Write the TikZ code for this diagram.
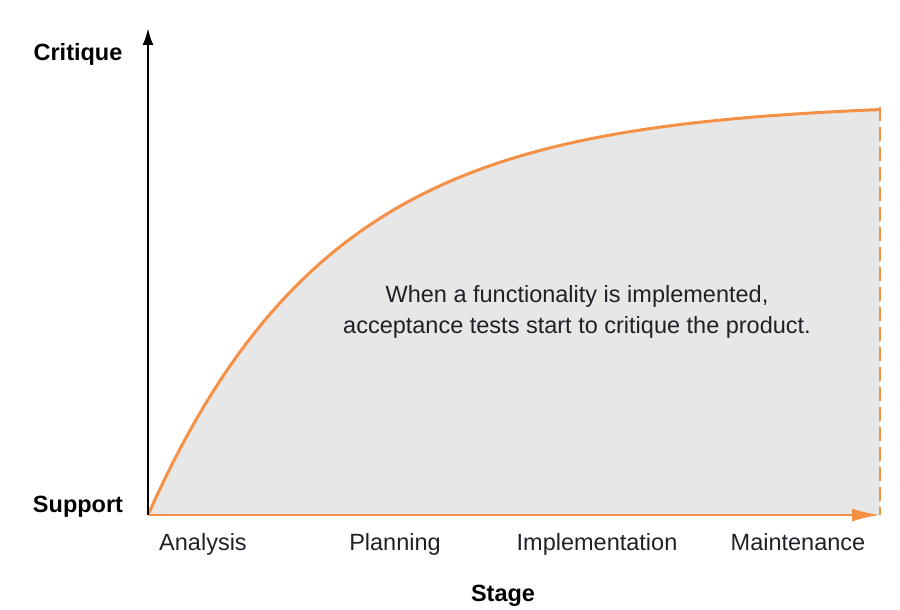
\documentclass[tikz,border=0pt]{standalone}
\usepackage{fontspec}
\setmainfont{Liberation Sans}
\usetikzlibrary{arrows.meta}
\definecolor{curveorange}{RGB}{245,145,70}
\definecolor{areagrey}{RGB}{230,231,230}
\definecolor{txtdark}{RGB}{35,31,40}
\tikzset{> = {Latex[length=17pt,width=11pt]},
	lbl/.style={anchor=base,text=txtdark,font=\fontsize{23.5}{31}\selectfont},
	axislbl/.style={anchor=base,text=black,font=\fontsize{23.5}{31}\selectfont\bfseries}}

\begin{document}
\begin{tikzpicture}[x=1pt,y=-1pt]
	\useasboundingbox (0,0) rectangle (900,610);
	\coordinate (origin) at (148,515);
	\coordinate (ytop) at (148,28);
	\coordinate (xend) at (880,515);
	\coordinate (cend) at (880,107);
	% shaded area under the curve
	\fill[areagrey] (origin) -- plot[domain=0:732,samples=90] ({148+\x},{515-413*(1-exp(-\x/183))}) -- (xend) -- cycle;
	\draw[curveorange,line width=2.5pt,dash pattern=on 14pt off 6pt] (cend)--(xend);
	\draw[curveorange,line width=3pt,line join=round] plot[domain=0:732,samples=90] ({148+\x},{515-413*(1-exp(-\x/183))});
	\draw[curveorange,line width=2.5pt,-{Latex[length=28pt,width=13pt]}] (origin)--(xend);
	\draw[black,line width=2.5pt,->] (origin)--(ytop);
	% axis labels
	\node[axislbl] (critique) at (78,61) {Critique};
	\node[axislbl] (support) at (78,512) {Support};
	\node[axislbl] (stage) at (503,601) {Stage};
	\node[lbl] (analysis) at (203,550) {Analysis};
	\node[lbl] (planning) at (395,550) {Planning};
	\node[lbl] (implementation) at (597,550) {Implementation};
	\node[lbl] (maintenance) at (798,550) {Maintenance};
	\node[lbl,align=center] (note) at (577,333) {When a functionality is implemented,\\acceptance tests start to critique the product.};
\end{tikzpicture}
\end{document}
